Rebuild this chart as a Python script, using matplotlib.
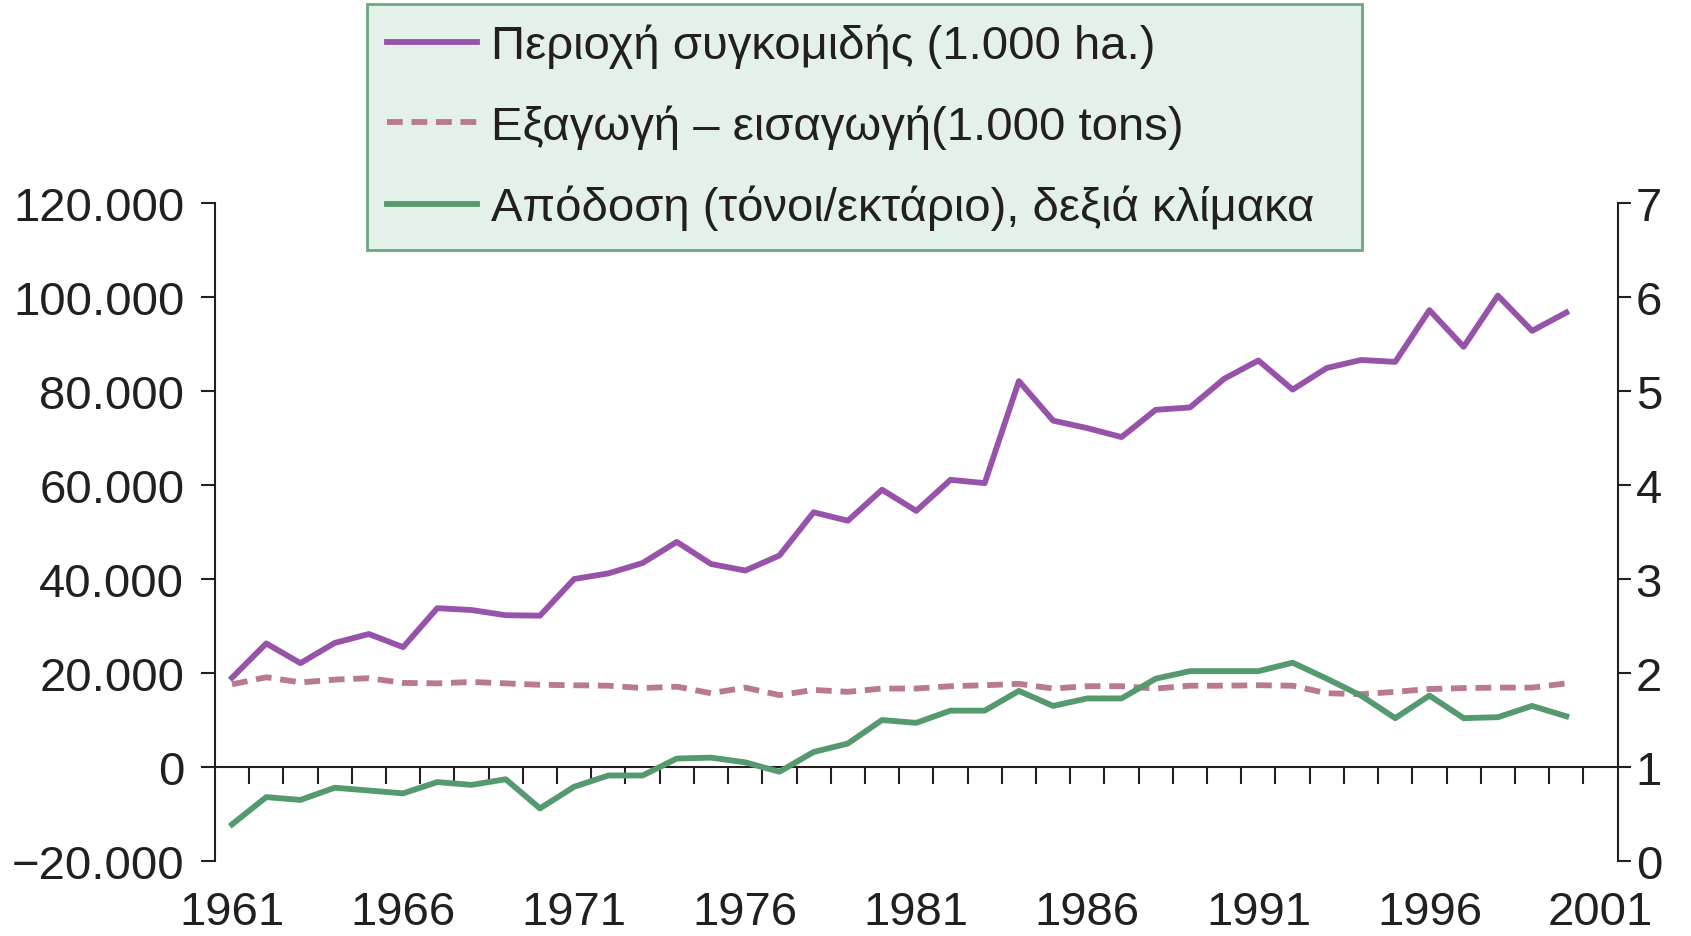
import matplotlib
matplotlib.use("Agg")
import matplotlib.pyplot as plt
from matplotlib.patches import Rectangle
from matplotlib.ticker import FuncFormatter, FixedLocator

plt.rcParams['font.family'] = ['Liberation Sans', 'DejaVu Sans']

years = list(range(1961, 2001))

area = [19000, 26300, 22100, 26400, 28300, 25500, 33800, 33400, 32300, 32200,
        40000, 41200, 43400, 47900, 43200, 41800, 45000, 54200, 52400, 59000,
        54500, 61100, 60400, 82100, 73700, 72100, 70200, 76000, 76500, 82600,
        86500, 80300, 84900, 86600, 86200, 97200, 89400, 100300, 92800, 96700]

trade = [17600, 19100, 18000, 18600, 18900, 17900, 17800, 18100, 17800, 17500,
         17400, 17300, 16800, 17100, 15700, 16900, 15300, 16400, 16000, 16700,
         16700, 17200, 17400, 17700, 16700, 17200, 17200, 16700, 17300, 17300,
         17400, 17300, 15700, 15500, 16000, 16600, 16800, 16900, 16900, 17800]

yield_ = [0.39, 0.68, 0.65, 0.78, 0.75, 0.72, 0.84, 0.81, 0.87, 0.56,
          0.79, 0.91, 0.91, 1.09, 1.10, 1.05, 0.95, 1.16, 1.25, 1.50,
          1.47, 1.60, 1.60, 1.81, 1.65, 1.73, 1.73, 1.94, 2.02, 2.02,
          2.02, 2.11, 1.94, 1.76, 1.52, 1.76, 1.52, 1.53, 1.65, 1.54]

labels = ["Περιοχή συγκομιδής (1.000 ha.)",
          "Εξαγωγή – εισαγωγή(1.000 tons)",
          "Απόδοση (τόνοι/εκτάριο), δεξιά κλίμακα"]

left_ticks = [-20000, 0, 20000, 40000, 60000, 80000, 100000, 120000]
right_ticks = [0, 1, 2, 3, 4, 5, 6, 7]
year_labels = [1961, 1966, 1971, 1976, 1981, 1986, 1991, 1996, 2001]

PURPLE = '#9653a9'
MAUVE = '#b97a91'
GREEN = '#559a6e'
TXT = '#231f20'
FS = 34
LW = 4.2

W, H = 1691, 937
fig = plt.figure(figsize=(W / 100, H / 100), dpi=100)
ax = fig.add_axes([0.1271, 0.080, 0.8295, 0.7023])
ax2 = ax.twinx()

l1, = ax.plot(years, area, color=PURPLE, lw=LW, zorder=3)
l2, = ax.plot(years, trade, color=MAUVE, lw=LW, ls=(0, (2.7, 1.5)), zorder=3)
l3, = ax2.plot(years, yield_, color=GREEN, lw=LW, zorder=3)

ax.set_xlim(1960.5, 2001.5)
ax.set_ylim(-20000, 120000)
ax2.set_ylim(0, 7)

for a in (ax, ax2):
    a.spines['top'].set_visible(False)
    a.spines['bottom'].set_visible(False)
    for s in a.spines.values():
        s.set_linewidth(1.5)
        s.set_color(TXT)
ax.spines['right'].set_visible(False)
ax2.spines['left'].set_visible(False)

def fmt(v, pos):
    s = f"{abs(v):,.0f}".replace(',', '.')
    return ('\u2212' + s) if v < 0 else s

ax.yaxis.set_major_locator(FixedLocator(left_ticks))
ax.yaxis.set_major_formatter(FuncFormatter(fmt))
ax.tick_params(axis='y', direction='out', length=10, width=1.5, pad=12,
               labelsize=FS, colors=TXT)
ax2.set_yticks(right_ticks)
ax2.tick_params(axis='y', direction='out', length=9, width=1.5, pad=4,
                labelsize=FS, colors=TXT)

ax.set_xticks(year_labels)
ax.set_xticklabels([str(y) for y in year_labels])
ax.tick_params(axis='x', length=0, pad=21, labelsize=FS, colors=TXT)

# zero line with category-boundary ticks
zero_frac = (0 - (-20000)) / (120000 - (-20000))
sec = ax.secondary_xaxis(zero_frac)
bounds = [y + 0.5 for y in years]
sec.set_xticks(bounds)
sec.set_xticklabels([''] * len(bounds))
sec.tick_params(axis='x', direction='out', length=12, width=1.5, color=TXT)
for s in sec.spines.values():
    s.set_linewidth(1.5)
    s.set_color(TXT)

# legend box (drawn as a figure patch so its width matches the original)
box_x0, box_y0, box_x1, box_y1 = 367, 5, 1362, 251
fig.patches.append(Rectangle((box_x0 / W, 1 - box_y1 / H),
                             (box_x1 - box_x0) / W, (box_y1 - box_y0) / H,
                             transform=fig.transFigure, facecolor='#e3f1e8',
                             edgecolor='#6aa882', linewidth=2, zorder=5))

leg = fig.legend([l1, l2, l3], labels, loc='upper left',
                 bbox_to_anchor=(box_x0 / W, 1 - box_y0 / H),
                 bbox_transform=fig.transFigure, borderaxespad=0,
                 fontsize=FS, frameon=False,
                 handlelength=1.9, handletextpad=0.3, labelspacing=0.76,
                 borderpad=0.42)
leg.set_zorder(6)
for t in leg.get_texts():
    t.set_color(TXT)

fig.savefig('out.png', dpi=100)
